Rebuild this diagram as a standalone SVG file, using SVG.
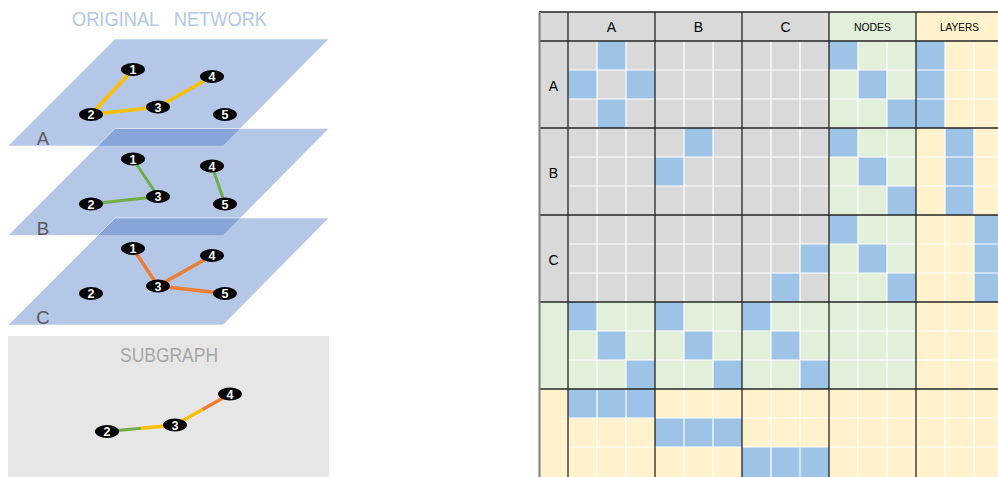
<svg xmlns="http://www.w3.org/2000/svg" width="998" height="477" viewBox="0 0 998 477">
<style>
.plane{fill:#4472C4;fill-opacity:0.4;stroke:#ffffff;stroke-width:0.6}
.nd{fill:#000000}
.nt{fill:#ffffff;font-family:"Liberation Sans",Arial,sans-serif;font-size:12.5px;font-weight:bold;text-anchor:middle}
.ey{stroke:#FFC000;stroke-width:3.5;stroke-linecap:butt;fill:none}
.eg{stroke:#70AD47;stroke-width:3;fill:none}
.eo{stroke:#ED7D31;stroke-width:3.5;fill:none}
.lbl{fill:#595959;font-family:"Liberation Sans",Arial,sans-serif;font-size:18.5px;text-anchor:middle}
.b{fill:#9DC3E6}
.mt{fill:#000000;font-family:"Liberation Sans",Arial,sans-serif;text-anchor:middle}
</style>
<rect width="998" height="477" fill="#ffffff"/>
<!-- Title -->
<text x="169.5" y="25.5" fill="#B4C7E7" font-family="Liberation Sans, Arial, sans-serif" font-size="19.5" text-anchor="middle" style="white-space:pre" textLength="195" lengthAdjust="spacingAndGlyphs">ORIGINAL   NETWORK</text>
<!-- Planes -->
<g id="planes">
<g id="plane-A"><polygon class="plane" points="115,39 329,39 223,146 8,146"/><text class="lbl" x="43" y="145">A</text></g>
<g id="plane-B"><polygon class="plane" points="115,128.5 329,128.5 223,235.5 8,235.5"/><text class="lbl" x="43" y="234.5">B</text></g>
<g id="plane-C"><polygon class="plane" points="115,218 329,218 223,325 8,325"/><text class="lbl" x="43" y="324">C</text></g>
</g>
<!-- Subgraph box -->
<g id="subgraph">
<rect x="8" y="336" width="321" height="141" fill="#E7E6E6"/>
<text x="169" y="361.5" fill="#A6A6A6" font-family="Liberation Sans, Arial, sans-serif" font-size="20" text-anchor="middle" textLength="98" lengthAdjust="spacingAndGlyphs">SUBGRAPH</text>
</g>
<!-- Connectors -->
<g id="connectors">
<line class="ey" x1="133" y1="69.5" x2="91" y2="114.5"/>
<line class="ey" x1="91" y1="114.5" x2="158" y2="107"/>
<line class="ey" x1="158" y1="107" x2="212" y2="76.5"/>
<line class="eg" x1="133" y1="159" x2="158" y2="196.5"/>
<line class="eg" x1="91" y1="204" x2="158" y2="196.5"/>
<line class="eg" x1="212" y1="166" x2="225" y2="204"/>
<line class="eo" x1="133" y1="248.5" x2="158" y2="286"/>
<line class="eo" x1="158" y1="286" x2="212" y2="255.5"/>
<line class="eo" x1="158" y1="286" x2="225" y2="293.5"/>
<line class="eg" x1="107" y1="431.5" x2="141" y2="428.25"/>
<line class="ey" x1="141" y1="428.25" x2="175" y2="425"/>
<line class="ey" x1="175" y1="425" x2="202.5" y2="409.5"/>
<line class="eo" x1="202.5" y1="409.5" x2="230" y2="394"/>
</g>
<!-- Nodes plane A -->
<g id="A-1"><ellipse class="nd" cx="133" cy="69.5" rx="12" ry="6.5"/><text class="nt" x="133" y="74">1</text></g>
<g id="A-2"><ellipse class="nd" cx="91" cy="114.5" rx="12" ry="6.5"/><text class="nt" x="91" y="119">2</text></g>
<g id="A-3"><ellipse class="nd" cx="158" cy="107" rx="12" ry="6.5"/><text class="nt" x="158" y="111.5">3</text></g>
<g id="A-4"><ellipse class="nd" cx="212" cy="76.5" rx="12" ry="6.5"/><text class="nt" x="212" y="81">4</text></g>
<g id="A-5"><ellipse class="nd" cx="225" cy="114.5" rx="12" ry="6.5"/><text class="nt" x="225" y="119">5</text></g>
<!-- Nodes plane B -->
<g id="B-1"><ellipse class="nd" cx="133" cy="159" rx="12" ry="6.5"/><text class="nt" x="133" y="163.5">1</text></g>
<g id="B-2"><ellipse class="nd" cx="91" cy="204" rx="12" ry="6.5"/><text class="nt" x="91" y="208.5">2</text></g>
<g id="B-3"><ellipse class="nd" cx="158" cy="196.5" rx="12" ry="6.5"/><text class="nt" x="158" y="201">3</text></g>
<g id="B-4"><ellipse class="nd" cx="212" cy="166" rx="12" ry="6.5"/><text class="nt" x="212" y="170.5">4</text></g>
<g id="B-5"><ellipse class="nd" cx="225" cy="204" rx="12" ry="6.5"/><text class="nt" x="225" y="208.5">5</text></g>
<!-- Nodes plane C -->
<g id="C-1"><ellipse class="nd" cx="133" cy="248.5" rx="12" ry="6.5"/><text class="nt" x="133" y="253">1</text></g>
<g id="C-2"><ellipse class="nd" cx="91" cy="293.5" rx="12" ry="6.5"/><text class="nt" x="91" y="298">2</text></g>
<g id="C-3"><ellipse class="nd" cx="158" cy="286" rx="12" ry="6.5"/><text class="nt" x="158" y="290.5">3</text></g>
<g id="C-4"><ellipse class="nd" cx="212" cy="255.5" rx="12" ry="6.5"/><text class="nt" x="212" y="260">4</text></g>
<g id="C-5"><ellipse class="nd" cx="225" cy="293.5" rx="12" ry="6.5"/><text class="nt" x="225" y="298">5</text></g>
<!-- Subgraph nodes -->
<g id="S-2"><ellipse class="nd" cx="107" cy="431.5" rx="12" ry="6.5"/><text class="nt" x="107" y="436">2</text></g>
<g id="S-3"><ellipse class="nd" cx="175" cy="425" rx="12" ry="6.5"/><text class="nt" x="175" y="429.5">3</text></g>
<g id="S-4"><ellipse class="nd" cx="230" cy="394" rx="12" ry="6.5"/><text class="nt" x="230" y="398.5">4</text></g>
<!-- Matrix -->
<g id="matrix">
<g id="matrix-bg">
<rect x="539" y="12" width="290" height="290" fill="#D9D9D9"/>
<rect x="829" y="12" width="87" height="290" fill="#E2EFDA"/>
<rect x="539" y="302" width="377" height="87" fill="#E2EFDA"/>
<rect x="916" y="12" width="87" height="377" fill="#FFF2CC"/>
<rect x="539" y="389" width="464" height="88" fill="#FFF2CC"/>
</g>
<g id="matrix-blue">
<rect class="b" x="597" y="41" width="29" height="29"/>
<rect class="b" x="568" y="70" width="29" height="29"/>
<rect class="b" x="626" y="70" width="29" height="29"/>
<rect class="b" x="597" y="99" width="29" height="29"/>
<rect class="b" x="829" y="41" width="29" height="29"/>
<rect class="b" x="858" y="70" width="29" height="29"/>
<rect class="b" x="887" y="99" width="29" height="29"/>
<rect class="b" x="916" y="41" width="29" height="87"/>
<rect class="b" x="684" y="128" width="29" height="29"/>
<rect class="b" x="655" y="157" width="29" height="29"/>
<rect class="b" x="829" y="128" width="29" height="29"/>
<rect class="b" x="858" y="157" width="29" height="29"/>
<rect class="b" x="887" y="186" width="29" height="29"/>
<rect class="b" x="945" y="128" width="29" height="87"/>
<rect class="b" x="800" y="244" width="29" height="29"/>
<rect class="b" x="771" y="273" width="29" height="29"/>
<rect class="b" x="829" y="215" width="29" height="29"/>
<rect class="b" x="858" y="244" width="29" height="29"/>
<rect class="b" x="887" y="273" width="29" height="29"/>
<rect class="b" x="974" y="215" width="29" height="87"/>
<rect class="b" x="568" y="302" width="29" height="29"/>
<rect class="b" x="655" y="302" width="29" height="29"/>
<rect class="b" x="742" y="302" width="29" height="29"/>
<rect class="b" x="597" y="331" width="29" height="29"/>
<rect class="b" x="684" y="331" width="29" height="29"/>
<rect class="b" x="771" y="331" width="29" height="29"/>
<rect class="b" x="626" y="360" width="29" height="29"/>
<rect class="b" x="713" y="360" width="29" height="29"/>
<rect class="b" x="800" y="360" width="29" height="29"/>
<rect class="b" x="568" y="389" width="87" height="29"/>
<rect class="b" x="655" y="418" width="87" height="29"/>
<rect class="b" x="742" y="447" width="87" height="30"/>
</g>
<path id="matrix-white" stroke="#ffffff" stroke-width="1.2" fill="none" d="M597,41V477M626,41V477M684,41V477M713,41V477M771,41V477M800,41V477M858,41V477M887,41V477M945,41V477M974,41V477M568,70H998M568,99H998M568,157H998M568,186H998M568,244H998M568,273H998M568,331H998M568,360H998M568,418H998M568,447H998"/>
<path id="matrix-black" stroke="#262626" stroke-width="1.3" fill="none" d="M568,12V477M655,12V477M742,12V477M829,12V477M916,12V477M539,12H998M539,41H998M539,128H998M539,215H998M539,302H998M539,389H998"/>
<line x1="539.5" y1="12" x2="539.5" y2="477" stroke="#7F7F7F" stroke-width="2"/>
<g id="matrix-labels">
<text class="mt" x="611.5" y="31.5" font-size="14">A</text>
<text class="mt" x="698.5" y="31.5" font-size="14">B</text>
<text class="mt" x="785.5" y="31.5" font-size="14">C</text>
<text class="mt" x="872.5" y="30.8" font-size="11.5" textLength="37" lengthAdjust="spacingAndGlyphs">NODES</text>
<text class="mt" x="959.5" y="30.8" font-size="11.5" textLength="39" lengthAdjust="spacingAndGlyphs">LAYERS</text>
<text class="mt" x="553.5" y="91" font-size="14">A</text>
<text class="mt" x="553.5" y="177.5" font-size="14">B</text>
<text class="mt" x="553.5" y="264.5" font-size="14">C</text>
</g>
</g>
</svg>
